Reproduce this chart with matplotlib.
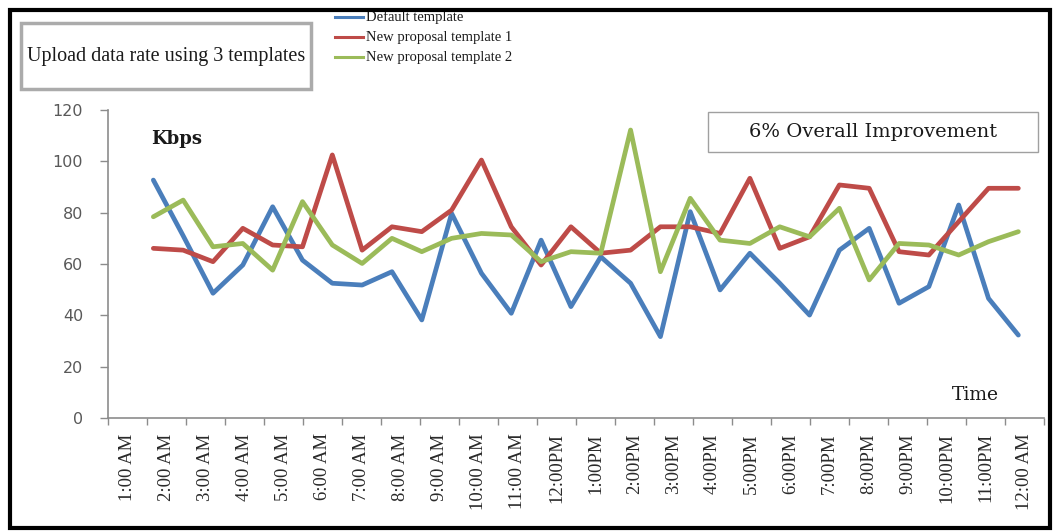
import matplotlib
matplotlib.use("Agg")
import matplotlib.pyplot as plt
from matplotlib.patches import Rectangle
from matplotlib.lines import Line2D

# ---------------- data ----------------
time_labels = ["1:00 AM", "2:00 AM", "3:00 AM", "4:00 AM", "5:00 AM", "6:00 AM",
               "7:00 AM", "8:00 AM", "9:00 AM", "10:00 AM", "11:00 AM", "12:00PM",
               "1:00PM", "2:00PM", "3:00PM", "4:00PM", "5:00PM", "6:00PM",
               "7:00PM", "8:00PM", "9:00PM", "10:00PM", "11:00PM", "12:00 AM"]

default_template = [92.7, 71, 48.6, 59.6, 82.3, 61.5, 52.5, 51.8, 57.0, 38.2,
                    79.7, 56.4, 40.8, 69.3, 43.4, 62.8, 52.5, 31.7, 80.4, 49.9,
                    64.2, 52.5, 40.1, 65.4, 73.9, 44.7, 51.2, 83.0, 46.6, 32.3]
proposal_1 = [66.1, 65.4, 60.9, 73.9, 67.4, 66.7, 102.5, 65.4, 74.5, 72.6,
              81.0, 100.5, 74.5, 59.6, 74.5, 64.2, 65.4, 74.5, 74.5, 71.9,
              93.4, 66.1, 70.6, 90.8, 89.5, 64.8, 63.5, 76.5, 89.5, 89.5]
proposal_2 = [78.4, 84.9, 66.7, 68.0, 57.6, 84.3, 67.4, 60.2, 70.0, 64.8,
              70.0, 71.9, 71.3, 60.9, 64.8, 64.2, 112.2, 57.0, 85.6, 69.3,
              68.0, 74.5, 70.6, 81.7, 53.8, 68.0, 67.4, 63.5, 68.7, 72.6]

series_names = ["Default template", "New proposal template 1", "New proposal template 2"]
series_colors = ["#4A7EBB", "#BE4B48", "#9BBB59"]
yticks = [0, 20, 40, 60, 80, 100, 120]

# ---------------- figure ----------------
W, H = 1062, 531
fig = plt.figure(figsize=(W / 100, H / 100), dpi=100)
fig.patch.set_facecolor("white")


def fx(x):
    return x / W


def fy(y):
    return 1 - y / H


SERIF = ["Liberation Serif", "DejaVu Serif"]
AXIS_GRAY = "#8C8C8C"

ax_left, ax_right, ax_top, ax_bottom = 108, 1044, 110, 418
ax = fig.add_axes([fx(ax_left), fy(ax_bottom), fx(ax_right - ax_left), (ax_bottom - ax_top) / H])

series = [default_template, proposal_1, proposal_2]
xs = list(range(len(default_template)))
for vals, name, col in zip(series, series_names, series_colors):
    ax.plot(xs, vals, color=col, lw=3.4, solid_joinstyle="round", solid_capstyle="round",
            label=name, zorder=3)

ax.set_ylim(0, 120)
ax.set_xlim(-1.52, 29.86)
ax.set_yticks(yticks)
ax.set_yticklabels([str(v) for v in yticks], fontsize=11.5, color="#595959",
                   family="DejaVu Sans")
ax.tick_params(axis="y", direction="out", length=6, width=1, color=AXIS_GRAY, pad=12)
ax.set_xticks([])
for s in ["top", "right"]:
    ax.spines[s].set_visible(False)
for s in ["left", "bottom"]:
    ax.spines[s].set_color(AXIS_GRAY)
    ax.spines[s].set_linewidth(1.2)

# category axis for time labels
ax2 = ax.twiny()
ax2.set_xlim(0, len(time_labels))
ax2.xaxis.set_ticks_position("bottom")
ax2.xaxis.set_label_position("bottom")
for s in ax2.spines.values():
    s.set_visible(False)
ax2.set_xticks(range(len(time_labels) + 1))
ax2.set_xticklabels([])
ax2.tick_params(axis="x", which="major", direction="out", length=5, width=1, color=AXIS_GRAY)
ax2.set_xticks([i + 0.5 for i in range(len(time_labels))], minor=True)
ax2.set_xticklabels(time_labels, minor=True, rotation=90, fontsize=13.5,
                    family=SERIF, color="#2a2a2a")
ax2.tick_params(axis="x", which="minor", length=0, pad=11)

# axis texts
fig.text(fx(151), fy(139), "Kbps", fontsize=13, family="DejaVu Serif",
         fontweight="bold", ha="left", va="center", color="#1a1a1a")
fig.text(fx(975), fy(395), "Time", fontsize=13.5, family="DejaVu Serif",
         ha="center", va="center", color="#1a1a1a")

# improvement box
fig.add_artist(Rectangle((fx(708), fy(152)), fx(1038 - 708), (152 - 112) / H,
                         transform=fig.transFigure, facecolor="white",
                         edgecolor="#A0A0A0", lw=1.0, zorder=5))
fig.text(fx(873), fy(132), "6% Overall Improvement", fontsize=14, family="DejaVu Serif",
         ha="center", va="center", color="#1a1a1a", zorder=6)

# title box
fig.add_artist(Rectangle((fx(21), fy(89)), fx(311 - 21), (89 - 23) / H,
                         transform=fig.transFigure, facecolor="white",
                         edgecolor="#ABABAB", lw=2.5, zorder=5))
fig.text(fx(166), fy(56), "Upload data rate using 3 templates", fontsize=14.5,
         family=SERIF, ha="center", va="center", color="#1a1a1a", zorder=6)

# legend
leg_rows = [17, 37, 57]
for row_y, name, col in zip(leg_rows, series_names, series_colors):
    fig.add_artist(Line2D([fx(335), fx(363)], [fy(row_y), fy(row_y)],
                          transform=fig.transFigure, color=col, lw=2.2))
    fig.text(fx(366), fy(row_y), name, fontsize=10.5, family=SERIF,
             ha="left", va="center", color="#1a1a1a")

# outer black frame
fig.add_artist(Rectangle((fx(9.5), fy(528)), fx(1050 - 9.5), (528 - 10) / H,
                         transform=fig.transFigure, facecolor="none",
                         edgecolor="black", lw=3, zorder=10))

fig.savefig("out.png", dpi=100)
